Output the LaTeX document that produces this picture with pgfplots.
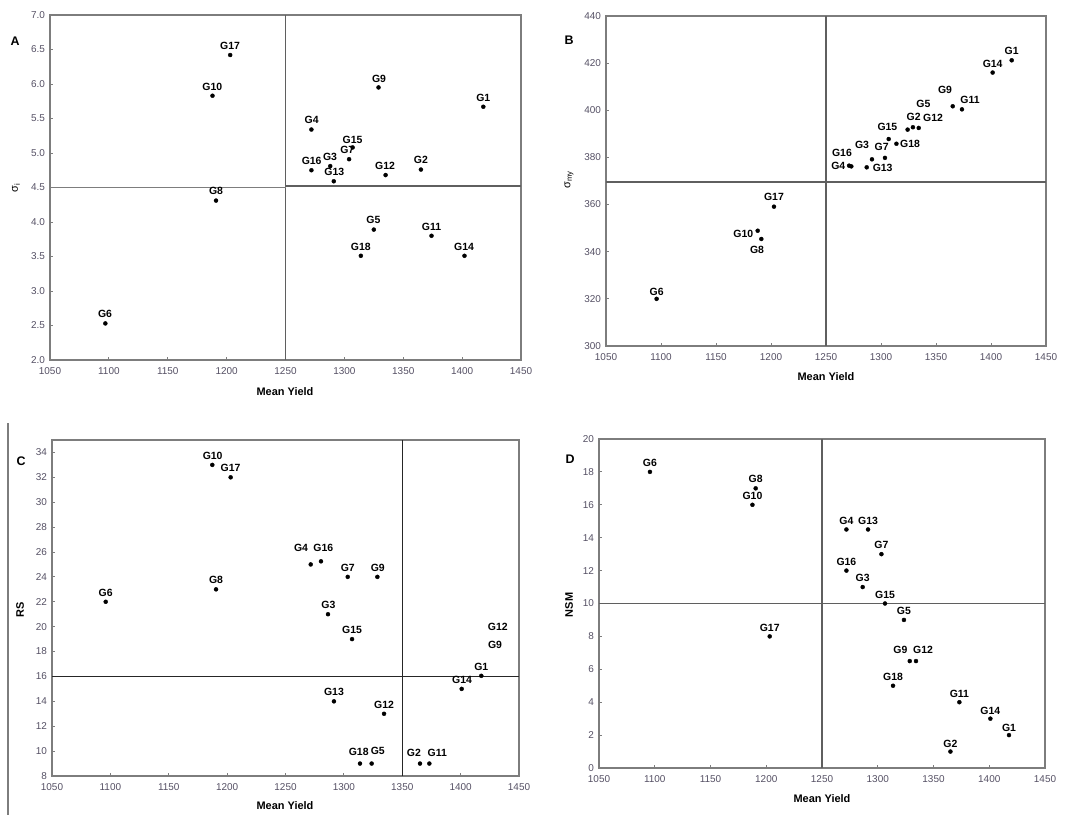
\documentclass[border=0pt]{standalone}
\usepackage{pgfplots}
\pgfplotsset{compat=1.18}
\usepackage{fontspec}
\setmainfont{Liberation Sans}
\definecolor{tickc}{RGB}{85,80,100}
\definecolor{frame}{RGB}{125,125,125}
\definecolor{qline}{RGB}{95,95,95}
\tikzset{lab/.style={font=\bfseries\fontsize{10.5}{12}\selectfont, inner sep=0pt, text=black},
  ttl/.style={font=\bfseries\fontsize{11}{13}\selectfont, inner sep=0pt},
  let/.style={font=\bfseries\fontsize{12.5}{14}\selectfont, inner sep=0pt}}
\pgfplotsset{panel/.style={scale only axis, xmin=1050, xmax=1450, xtick={1050,1100,...,1450},
  xtick pos=bottom, ytick pos=left, tick align=inside, major tick length=2.5bp,
  axis line style={draw=frame, line width=1.3bp}, tick style={draw=frame, line width=0.8bp},
  ticklabel style={font=\fontsize{10}{12}\selectfont, text=tickc},
  xticklabel style={yshift=-4.5bp}, yticklabel style={xshift=-1.5bp},
  clip=false, /pgf/number format/assume math mode=true, /pgf/number format/1000 sep={}},
  dots/.style={only marks, mark=*, mark size=2bp, black}}
\begin{document}
\begin{tikzpicture}[x=1bp,y=1bp]
\path[use as bounding box] (0bp,0bp) rectangle (1072bp,815bp);
% ---------------- Panel A ----------------
\begin{axis}[panel, at={(50bp,455bp)}, anchor=south west, width=471bp, height=345bp,
  ymin=2, ymax=7, ytick={2,2.5,...,7},
  yticklabel style={/pgf/number format/fixed, /pgf/number format/fixed zerofill, /pgf/number format/precision=1}]
\addplot[qline, line width=1.3bp] coordinates {(1250,2) (1250,7)};
\addplot[frame, line width=1.3bp] coordinates {(1050,4.50) (1250,4.50)};
\addplot[qline, line width=1.3bp] coordinates {(1250,4.52) (1450,4.52)};
\addplot[dots] coordinates {(1418,5.67) (1365,4.76) (1288,4.81) (1272,5.34) (1325,3.89) (1097,2.53)
 (1304,4.91) (1191,4.31) (1329,5.95) (1188,5.83) (1374,3.80) (1335,4.68) (1291,4.59) (1402,3.51)
 (1307,5.08) (1272,4.75) (1203,6.42) (1314,3.51)};
\node[lab] at (axis cs:1202.9,6.556) {G17};
\node[lab] at (axis cs:1187.9,5.961) {G10};
\node[lab] at (axis cs:1329.4,6.077) {G9};
\node[lab] at (axis cs:1418,5.802) {G1};
\node[lab] at (axis cs:1272.2,5.478) {G4};
\node[lab] at (axis cs:1307,5.188) {G15};
\node[lab] at (axis cs:1302.5,5.043) {G7};
\node[lab] at (axis cs:1272.2,4.884) {G16};
\node[lab] at (axis cs:1287.8,4.942) {G3};
\node[lab] at (axis cs:1291.5,4.729) {G13};
\node[lab] at (axis cs:1334.5,4.816) {G12};
\node[lab] at (axis cs:1365,4.899) {G2};
\node[lab] at (axis cs:1191,4.444) {G8};
\node[lab] at (axis cs:1324.6,4.029) {G5};
\node[lab] at (axis cs:1374,3.932) {G11};
\node[lab] at (axis cs:1314,3.642) {G18};
\node[lab] at (axis cs:1401.6,3.642) {G14};
\node[lab] at (axis cs:1096.7,2.662) {G6};
\end{axis}
% ---------------- Panel B ----------------
\begin{axis}[panel, at={(606bp,469bp)}, anchor=south west, width=440bp, height=330bp,
  ymin=300, ymax=440, ytick={300,320,...,440}]
\addplot[qline, line width=1.2bp] coordinates {(1250,300) (1250,440)};
\addplot[qline, line width=1.2bp] coordinates {(1050,369.6) (1450,369.6)};
\addplot[dots] coordinates {(1418.8,421.2) (1401.5,416) (1365.2,401.7) (1373.6,400.4) (1324.2,391.8)
 (1329,392.8) (1334.3,392.5) (1307,387.8) (1314,385.8) (1303.6,379.8) (1291.8,379.2) (1287,375.8)
 (1271,376.5) (1273,376.2) (1202.7,359.1) (1187.9,348.9) (1191.2,345.4) (1096,320)};
\node[lab] at (axis cs:1418.8,425.2) {G1};
\node[lab] at (axis cs:1401.5,419.6) {G14};
\node[lab] at (axis cs:1358.2,408.5) {G9};
\node[lab] at (axis cs:1380.9,404.2) {G11};
\node[lab] at (axis cs:1338.5,402.8) {G5};
\node[lab] at (axis cs:1329.7,397.0) {G2};
\node[lab] at (axis cs:1347.3,396.6) {G12};
\node[lab] at (axis cs:1305.8,392.8) {G15};
\node[lab] at (axis cs:1326.4,385.8) {G18};
\node[lab] at (axis cs:1282.7,385.1) {G3};
\node[lab] at (axis cs:1300.6,384.4) {G7};
\node[lab] at (axis cs:1264.5,382.0) {G16};
\node[lab] at (axis cs:1261.2,376.4) {G4};
\node[lab] at (axis cs:1301.5,375.4) {G13};
\node[lab] at (axis cs:1202.7,363.1) {G17};
\node[lab] at (axis cs:1174.8,347.5) {G10};
\node[lab] at (axis cs:1187.3,340.6) {G8};
\node[lab] at (axis cs:1096.1,323.0) {G6};
\end{axis}
% ---------------- Panel C ----------------
\begin{axis}[panel, at={(52bp,39bp)}, anchor=south west, width=467bp, height=336bp,
  ymin=8, ymax=35, ytick={8,10,...,34}]
\addplot[black!85, line width=0.9bp] coordinates {(1350,8) (1350,35)};
\addplot[black!85, line width=0.9bp] coordinates {(1050,16) (1450,16)};
\addplot[dots] coordinates {(1187.3,33) (1203,32) (1271.6,25) (1280.4,25.25) (1303.3,24) (1328.7,24)
 (1190.5,23) (1096,22) (1286.4,21) (1307,19) (1417.7,16.05) (1400.9,15) (1291.5,14) (1334.4,13)
 (1313.8,9) (1323.8,9) (1365.2,9) (1373.2,9)};
\node[lab] at (axis cs:1187.6,33.73) {G10};
\node[lab] at (axis cs:1203,32.74) {G17};
\node[lab] at (axis cs:1263.3,26.36) {G4};
\node[lab] at (axis cs:1282.4,26.36) {G16};
\node[lab] at (axis cs:1303.3,24.76) {G7};
\node[lab] at (axis cs:1329,24.76) {G9};
\node[lab] at (axis cs:1190.5,23.73) {G8};
\node[lab] at (axis cs:1096,22.69) {G6};
\node[lab] at (axis cs:1286.7,21.75) {G3};
\node[lab] at (axis cs:1307,19.72) {G15};
\node[lab] at (axis cs:1431.8,19.96) {G12};
\node[lab] at (axis cs:1429.5,18.53) {G9};
\node[lab] at (axis cs:1417.7,16.74) {G1};
\node[lab] at (axis cs:1401.2,15.72) {G14};
\node[lab] at (axis cs:1291.5,14.73) {G13};
\node[lab] at (axis cs:1334.4,13.74) {G12};
\node[lab] at (axis cs:1312.7,9.97) {G18};
\node[lab] at (axis cs:1329,10.02) {G5};
\node[lab] at (axis cs:1360,9.88) {G2};
\node[lab] at (axis cs:1380,9.88) {G11};
\end{axis}
% ---------------- Panel D ----------------
\begin{axis}[panel, at={(599bp,47bp)}, anchor=south west, width=446bp, height=329bp,
  ymin=0, ymax=20, ytick={0,2,...,20}]
\addplot[qline, line width=1.3bp] coordinates {(1250,0) (1250,20)};
\addplot[qline, line width=1.3bp] coordinates {(1050,10) (1450,10)};
\addplot[dots] coordinates {(1095.7,18) (1190.5,17) (1187.6,16) (1271.9,14.5) (1291.3,14.5) (1303.3,13)
 (1271.9,12) (1286.5,11) (1306.5,10) (1323.5,9) (1203.1,8) (1328.7,6.5) (1334.3,6.5) (1313.7,5)
 (1373.2,4) (1401,3) (1417.7,2) (1365.2,1)};
\node[lab] at (axis cs:1095.7,18.57) {G6};
\node[lab] at (axis cs:1190.5,17.55) {G8};
\node[lab] at (axis cs:1187.6,16.53) {G10};
\node[lab] at (axis cs:1271.9,15.04) {G4};
\node[lab] at (axis cs:1291.3,15.04) {G13};
\node[lab] at (axis cs:1303.3,13.56) {G7};
\node[lab] at (axis cs:1271.9,12.5) {G16};
\node[lab] at (axis cs:1286.5,11.53) {G3};
\node[lab] at (axis cs:1306.5,10.5) {G15};
\node[lab] at (axis cs:1323.5,9.53) {G5};
\node[lab] at (axis cs:1203.1,8.51) {G17};
\node[lab] at (axis cs:1320.3,7.15) {G9};
\node[lab] at (axis cs:1340.6,7.15) {G12};
\node[lab] at (axis cs:1313.7,5.51) {G18};
\node[lab] at (axis cs:1373.2,4.5) {G11};
\node[lab] at (axis cs:1401,3.47) {G14};
\node[lab] at (axis cs:1417.7,2.46) {G1};
\node[lab] at (axis cs:1365.2,1.48) {G2};
\end{axis}
% ---------------- titles, letters ----------------
\node[let] at (15bp,774bp) {A};
\node[let] at (569bp,775bp) {B};
\node[let] at (21bp,354bp) {C};
\node[let] at (570bp,356bp) {D};
\node[ttl] at (285bp,423bp) {Mean Yield};
\node[ttl] at (826bp,438bp) {Mean Yield};
\node[ttl] at (285bp,9bp) {Mean Yield};
\node[ttl] at (822bp,16bp) {Mean Yield};
\node[rotate=90, inner sep=0pt, font=\fontsize{11}{13}\selectfont] at (16bp,627bp) {σ\textsubscript{i}};
\node[rotate=90, inner sep=0pt, font=\fontsize{11}{13}\selectfont] at (569bp,635bp) {σ\textsubscript{my}};
\node[ttl, rotate=90] at (20bp,205bp) {RS};
\node[ttl, rotate=90] at (569bp,210bp) {NSM};
\draw[frame, line width=1.5bp] (8bp,0bp) -- (8bp,392bp);
\end{tikzpicture}
\end{document}
